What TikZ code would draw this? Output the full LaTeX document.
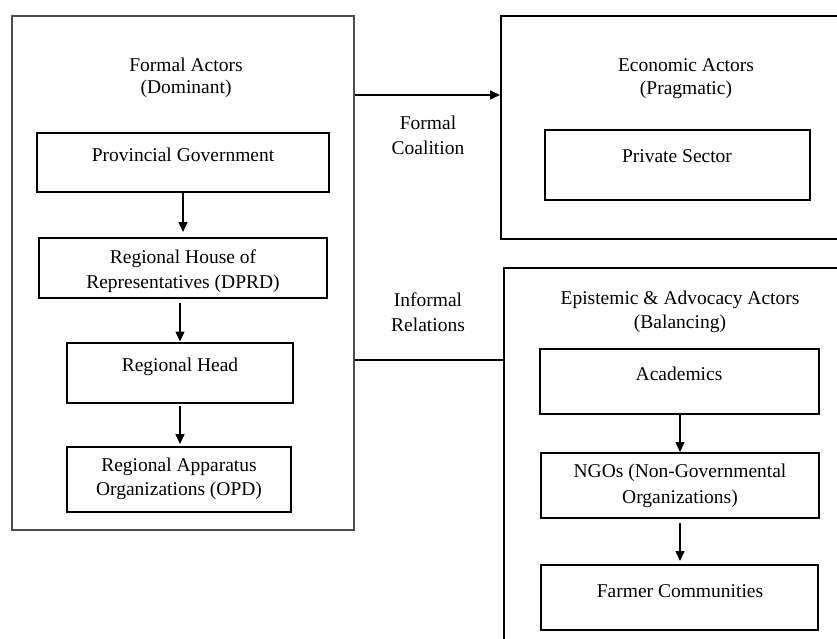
\documentclass[tikz,border=0pt]{standalone}
\usepackage{fontspec}
\setmainfont{Liberation Serif}
\usetikzlibrary{arrows.meta}
\begin{document}
\begin{tikzpicture}[x=1pt,y=-1pt,
  box/.style={draw=black,line width=2pt,inner sep=0pt,rectangle},
  grayouter/.style={draw=black!70,line width=1.2pt,inner sep=0pt,rectangle},
  lbl/.style={anchor=base,inner sep=0pt,font=\fontsize{19.5}{24}\selectfont},
  arr/.style={line width=1.5pt,-{Triangle[length=10pt,width=9pt]}},
  link/.style={line width=1.4pt}]
\useasboundingbox (0,0) rectangle (837,639);
\clip (0,0) rectangle (837,639);

% outer group boxes
\node[grayouter,minimum width=342pt,minimum height=514pt] (formal) at (183,273) {};
\node[box,minimum width=349pt,minimum height=223pt] (econ) at (675.5,127.5) {};
\node[box,minimum width=346pt,minimum height=392pt] (epist) at (677,464) {};

% inner boxes, left
\node[box,minimum width=292pt,minimum height=59pt] (pg) at (183,162.5) {};
\node[box,minimum width=288pt,minimum height=60pt] (rhouse) at (183,268) {};
\node[box,minimum width=226pt,minimum height=60pt] (head) at (180,372.5) {};
\node[box,minimum width=224pt,minimum height=65pt] (opd) at (179,479.5) {};

% inner boxes, right
\node[box,minimum width=265pt,minimum height=70pt] (private) at (677.5,165) {};
\node[box,minimum width=279pt,minimum height=65pt] (acad) at (679.5,381.5) {};
\node[box,minimum width=278pt,minimum height=65pt] (ngo) at (680,485.5) {};
\node[box,minimum width=277pt,minimum height=65pt] (farmer) at (679.5,597.5) {};

% texts
\node[lbl] (formalt1) at (186,72) {Formal Actors};
\node[lbl] (formalt2) at (186,94) {(Dominant)};
\node[lbl] (pgt) at (183,161) {Provincial Government};
\node[lbl] (rhouset1) at (183,263) {Regional House of};
\node[lbl] (rhouset2) at (183,288) {Representatives (DPRD)};
\node[lbl] (headt) at (180,371) {Regional Head};
\node[lbl] (opdt1) at (179,471) {Regional Apparatus};
\node[lbl] (opdt2) at (179,495) {Organizations (OPD)};

\node[lbl] (fc1) at (428,130) {Formal};
\node[lbl] (fc2) at (428,155) {Coalition};
\node[lbl] (ir1) at (428,306) {Informal};
\node[lbl] (ir2) at (428,331) {Relations};

\node[lbl] (econt1) at (686,72) {Economic Actors};
\node[lbl] (econt2) at (686,95) {(Pragmatic)};
\node[lbl] (privatet) at (677,163) {Private Sector};
\node[lbl] (epistt1) at (680,304) {Epistemic \& Advocacy Actors};
\node[lbl] (epistt2) at (680,328) {(Balancing)};
\node[lbl] (acadt) at (679,380) {Academics};
\node[lbl] (ngot1) at (680,477) {NGOs (Non-Governmental};
\node[lbl] (ngot2) at (680,503) {Organizations)};
\node[lbl] (farmert) at (680,597) {Farmer Communities};

% connectors
\draw[arr] (formal.east |- 0,95) -- (econ.west |- 0,95);
\draw[link] (formal.east |- 0,360) -- (epist.west |- 0,360);

\draw[arr,shorten >=5pt] (pg.south) -- (rhouse.north);
\draw[arr,shorten <=4pt] (rhouse.south -| head.north) -- (head.north);
\draw[arr,shorten <=2pt,shorten >=2pt] (head.south) -- (opd.north -| head.south);

\draw[arr] (acad.south -| ngo.north) -- (ngo.north);
\draw[arr,shorten <=4pt,shorten >=3pt] (ngo.south) -- (farmer.north -| ngo.south);
\end{tikzpicture}
\end{document}
